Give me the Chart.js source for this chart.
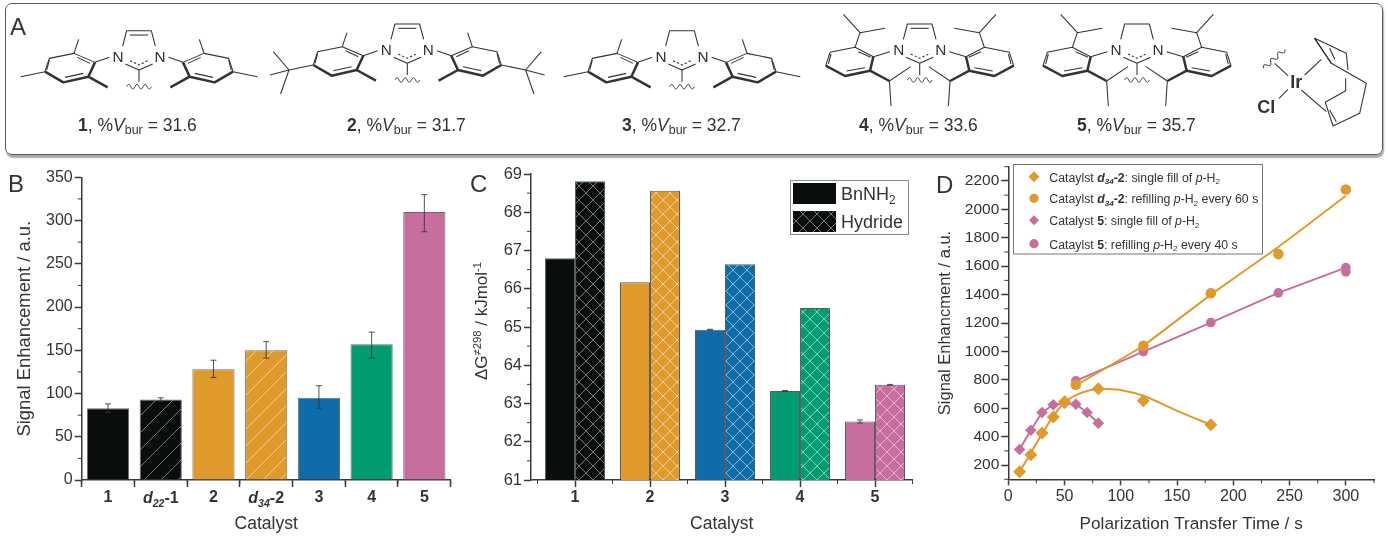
<!DOCTYPE html>
<html><head><meta charset="utf-8">
<script src="https://cdn.jsdelivr.net/npm/chart.js@4"></script>
<style>
html,body{margin:0;padding:0;background:#fff;width:1388px;height:544px;overflow:hidden}
#wrap{position:relative;width:1388px;height:544px;font-family:"Liberation Sans",Arial,sans-serif;color:#333;filter:blur(.3px)}
canvas{position:absolute}
.box{position:absolute;left:5px;top:3px;width:1376px;height:150px;border:1.6px solid #5a5a5a;border-radius:7px;box-shadow:1px 2.5px 1.5px #aaa;box-sizing:content-box}
.lab{position:absolute;top:115px;font-size:17.5px;line-height:20px;white-space:nowrap}
.lab sub{font-size:12.5px;line-height:0;vertical-align:-3px}
.let{position:absolute;font-size:24px;line-height:24px}
svg{position:absolute;left:0;top:0}
</style></head><body>
<div id="wrap">
<div class="box"></div>
<svg id="mol" width="1388" height="160" xmlns="http://www.w3.org/2000/svg"></svg>
<div class="let" style="left:10px;top:15px">A</div>
<div class="let" style="left:8px;top:172px">B</div>
<div class="let" style="left:470px;top:172px">C</div>
<div class="let" style="left:936px;top:173px">D</div>
<div class="lab" style="left:78px"><b>1</b>, %<i>V</i><sub>bur</sub> = 31.6</div>
<div class="lab" style="left:347px"><b>2</b>, %<i>V</i><sub>bur</sub> = 31.7</div>
<div class="lab" style="left:622px"><b>3</b>, %<i>V</i><sub>bur</sub> = 32.7</div>
<div class="lab" style="left:859px"><b>4</b>, %<i>V</i><sub>bur</sub> = 33.6</div>
<div class="lab" style="left:1077px"><b>5</b>, %<i>V</i><sub>bur</sub> = 35.7</div>
<canvas id="b" width="460" height="379" style="left:0;top:165px"></canvas>
<canvas id="c" width="460" height="379" style="left:460px;top:165px"></canvas>
<canvas id="d" width="458" height="389" style="left:930px;top:155px"></canvas>
</div>
<script>
// ---------- Data ----------
const BLACK='#0a0d0e',AMBER='#e09a2b',BLUE='#0e6ca8',GREEN='#029c72',PINK='#c76e9e';
// Panel B
const catB=['1','d22-1','2','d34-2','3','4','5'];
const valB=[83,93,128,150,95,157,310];
const errHiB=[88,95,138.5,160,109,171,330];
const errLoB=[78,91,118.5,141,83,141,287];
const colB=[BLACK,BLACK,AMBER,AMBER,BLUE,GREEN,PINK];
const hatchB=[false,true,false,true,false,false,false];
const ticksYB=[0,50,100,150,200,250,300,350];
const minorYB=[25,75,125,175,225,275,325];
// Panel C
const catC=[1,2,3,4,5];
const bnnh2=[66.8,66.17,64.93,63.33,62.53];
const hydride=[68.81,68.56,66.64,65.5,63.49];
const errBn=[0,0,0.01,0.01,0.04];
const errHy=[0,0,0,0,0.01];
const colC=[BLACK,AMBER,BLUE,GREEN,PINK];
const ticksYC=[61,62,63,64,65,66,67,68,69];
const minorYC=[61.5,62.5,63.5,64.5,65.5,66.5,67.5,68.5];
const minorXC=[0.5,1.5,2.5,3.5,4.5,5.5];
// Panel D
const timeSingleA=[10,20,30,40,50,80,120,180];
const singleA=[153,273,425,538,646,737,653,484];
const curveTimeA=[10,20,30,40,50,60,70,80,90,100,120,150,180];
const curveA=[153,285,420,545,640,692,722,735,735,728,688,582,484];
const timeRefillA=[60,120,180,240,300];
const refillA=[765,1040,1410,1685,2140];
const lineRefillA=[760,1040,1400,1735,2095];
const timeSingleP=[10,20,30,40,50,60,70,80];
const singleP=[310,445,570,625,635,628,570,495];
const timeRefillP=[60,120,180,240,300,300];
const refillP=[793,998,1203,1412,1590,1560];
const lineTimeP=[60,120,180,240,300];
const lineRefillP=[793,998,1203,1412,1590];
const ticksYD=[200,400,600,800,1000,1200,1400,1600,1800,2000,2200];
const minorYD=[100,300,500,700,900,1100,1300,1500,1700,1900,2100,2300];
const ticksXD=[0,50,100,150,200,250,300];
const minorXD=[25,75,125,175,225,275,325];

// ---------- Helpers ----------
const FONT='"Liberation Sans",Arial,sans-serif', TXT='#333';
Chart.defaults.font.family=FONT; Chart.defaults.color=TXT; Chart.defaults.animation=false;
function hatch(color,cross,size,line){
  const c=document.createElement('canvas');c.width=c.height=size;const x=c.getContext('2d');
  x.fillStyle=color;x.fillRect(0,0,size,size);x.strokeStyle=line;x.lineWidth=1;
  const d=(a,b,e,f)=>{x.beginPath();x.moveTo(a,b);x.lineTo(e,f);x.stroke()};
  d(-1,size+1,size+1,-1);
  if(cross){d(-1,-1,size+1,size+1);}
  return x.createPattern(c,'repeat');
}
const lineCol=c=>c===BLACK?'rgba(190,190,190,.6)':'rgba(255,255,255,.5)';
function rich(ctx,segs,x,y,size,align){
  const f=s=>(s.i?'italic ':'')+(s.b?'bold ':'')+(s.sub||s.sup?size*.66:size)+'px '+FONT;
  let w=0;segs.forEach(s=>{ctx.font=f(s);w+=ctx.measureText(s.t).width});
  let px=align==='center'?x-w/2:x;
  ctx.textAlign='left';ctx.textBaseline='alphabetic';
  segs.forEach(s=>{ctx.font=f(s);ctx.fillText(s.t,px,y+(s.sub?size*.22:s.sup?-size*.36:0));px+=ctx.measureText(s.t).width});
}
const fixY=(w,t)=>s=>{s.width=w;s.paddingTop=s.paddingBottom=0};
const fixX=h=>s=>{s.height=h;s.paddingLeft=s.paddingRight=0};
const setTicks=a=>s=>{s.ticks=a.map(v=>({value:v}))};
const AX='#3a3a3a';
const yScale=(w,min,max,ticks,title,tp,size,tsize)=>({type:'linear',min,max,afterFit:fixY(w),afterBuildTicks:setTicks(ticks),
  border:{color:AX,width:1.5},grid:{drawOnChartArea:false,tickLength:7,tickColor:AX,tickWidth:1.5},
  ticks:{autoSkip:false,padding:2,color:TXT,font:{size},callback:v=>String(v)},
  title:title?{display:true,text:title,color:TXT,font:{size:tsize},padding:{top:tp}}:{display:false}});
function minorPlugin(xs,ys,xIdx){return {id:'minor',afterDraw(ch){
  const c=ch.ctx,xa=ch.scales.x,ya=ch.scales.y;c.save();c.strokeStyle=AX;c.lineWidth=1;
  (xs||[]).forEach(v=>{const p=xa.getPixelForValue(v);c.beginPath();c.moveTo(p,xa.top);c.lineTo(p,xa.top+4);c.stroke()});
  (ys||[]).forEach(v=>{const p=ya.getPixelForValue(v);c.beginPath();c.moveTo(ya.right,p);c.lineTo(ya.right-4,p);c.stroke()});
  c.restore();}}}

// ---------- Panel B ----------
const richB={'d22-1':[{t:'d',b:1,i:1},{t:'22',b:1,i:1,sub:1},{t:'-1',b:1}],'d34-2':[{t:'d',b:1,i:1},{t:'34',b:1,i:1,sub:1},{t:'-2',b:1}]};
new Chart(document.getElementById('b'),{type:'bar',
 data:{labels:catB,datasets:[{data:valB,
   backgroundColor:colB.map((c,i)=>hatchB[i]?hatch(c,false,17,lineCol(c)):c),
   borderColor:'rgba(60,60,60,.75)',borderWidth:1,barPercentage:.8,categoryPercentage:1}]},
 options:{responsive:false,layout:{padding:{top:12.3,right:9.3}},plugins:{legend:{display:false},tooltip:{enabled:false}},
  scales:{y:yScale(81.7,0,350,ticksYB,'Signal Enhancement / a.u.',14,16,18.4),
   x:{afterFit:fixX(64),border:{color:AX,width:1.5},grid:{drawOnChartArea:false,tickLength:7,tickColor:AX,tickWidth:1.5},
     ticks:{autoSkip:false,maxRotation:0,padding:1,color:TXT,font:{size:16,weight:'bold'},callback(v){const l=this.getLabelForValue(v);return richB[l]?'':l}},
     title:{display:true,text:'Catalyst',color:TXT,font:{size:17.5},padding:{bottom:9}}}}},
 plugins:[minorPlugin([-.5,.5,1.5,2.5,3.5,4.5,5.5,6.5],minorYB),{id:'errB',afterDatasetsDraw(ch){
   const c=ch.ctx,y=ch.scales.y,m=ch.getDatasetMeta(0);c.save();c.strokeStyle='rgba(50,50,50,.85)';c.lineWidth=1;
   m.data.forEach((b,i)=>{const hi=y.getPixelForValue(errHiB[i]),lo=y.getPixelForValue(errLoB[i]);c.beginPath();
     c.moveTo(b.x,hi);c.lineTo(b.x,lo);c.moveTo(b.x-3,hi);c.lineTo(b.x+3,hi);c.moveTo(b.x-3,lo);c.lineTo(b.x+3,lo);c.stroke()});
   c.restore();
 },afterDraw(ch){const c=ch.ctx,x=ch.scales.x;c.save();c.fillStyle=TXT;
   catB.forEach((l,i)=>{if(richB[l])rich(c,richB[l],x.getPixelForValue(i),338,16,'center')});c.restore();}}]});

// ---------- Panel C ----------
new Chart(document.getElementById('c'),{type:'bar',
 data:{datasets:[
  {label:'BnNH2',data:catC.map((x,i)=>({x,y:bnnh2[i]})),backgroundColor:colC,borderColor:'rgba(50,50,50,.8)',borderWidth:1,categoryPercentage:.8,barPercentage:1},
  {label:'Hydride',data:catC.map((x,i)=>({x,y:hydride[i]})),backgroundColor:colC.map(c=>hatch(c,true,14,lineCol(c))),borderColor:'rgba(50,50,50,.8)',borderWidth:1,categoryPercentage:.8,barPercentage:1}]},
 options:{responsive:false,layout:{padding:{top:9,right:7.7}},plugins:{legend:{display:false},tooltip:{enabled:false}},
  scales:{y:yScale(71,61,69,ticksYC,null,0,16.5,17),
   x:{type:'linear',offset:false,min:0.413,max:5.497,afterFit:fixX(64),afterBuildTicks:setTicks(catC),border:{color:AX,width:1.5},
     grid:{drawOnChartArea:false,offset:false,tickLength:7,tickColor:AX,tickWidth:1.5},
     ticks:{autoSkip:false,padding:1,color:TXT,font:{size:16,weight:'bold'}},
     title:{display:true,text:'Catalyst',color:TXT,font:{size:17.5},padding:{bottom:9}}}}},
 plugins:[minorPlugin(minorXC,minorYC),{id:'errC',afterDatasetsDraw(ch){
   const c=ch.ctx,y=ch.scales.y;c.save();c.strokeStyle='rgba(50,50,50,.8)';c.lineWidth=1;
   [errBn,errHy].forEach((e,k)=>{const m=ch.getDatasetMeta(k),v=k?hydride:bnnh2;m.data.forEach((b,i)=>{if(!e[i])return;
     const hi=y.getPixelForValue(v[i]+e[i]),lo=y.getPixelForValue(v[i]-e[i]);c.beginPath();
     c.moveTo(b.x,hi);c.lineTo(b.x,lo);c.moveTo(b.x-3,hi);c.lineTo(b.x+3,hi);c.moveTo(b.x-3,lo);c.lineTo(b.x+3,lo);c.stroke()})});
   c.restore();
 },afterDraw(ch){const c=ch.ctx;c.save();
   // y axis title
   c.translate(27,156);c.rotate(-Math.PI/2);c.fillStyle=TXT;
   rich(c,[{t:'ΔG'},{t:'≠298',sup:1},{t:' / kJmol'},{t:'-1',sup:1}],0,0,17,'center');
   c.restore();c.save();
   // legend
   c.fillStyle='#fff';c.strokeStyle='#8a8a8a';c.lineWidth=1;c.fillRect(330.5,15.5,118,54);c.strokeRect(330.5,15.5,118,54);
   c.fillStyle=BLACK;c.fillRect(333,18,43,21);
   c.fillStyle=hatch(BLACK,true,14,lineCol(BLACK));c.fillRect(333,46,43,21);
   c.fillStyle=TXT;
   rich(c,[{t:'BnNH'},{t:'2',sub:1}],381,35,18,'left');
   rich(c,[{t:'Hydride'}],381,63,18,'left');
   c.restore();}}]});

// ---------- Panel D ----------
const sc=(xs,ys)=>xs.map((x,i)=>({x,y:ys[i]}));
const mk=(data,color,style,r)=>({data,showLine:false,pointStyle:style,pointRadius:r,pointBackgroundColor:color,pointBorderColor:color,pointBorderWidth:0});
const ln=(data,color,tension,w)=>({data,showLine:true,pointRadius:0,borderColor:color,borderWidth:w||2,tension,fill:false});
new Chart(document.getElementById('d'),{type:'scatter',
 data:{datasets:[
  mk(sc(timeSingleA,singleA),AMBER,'rectRot',6.5),
  mk(sc(timeRefillA,refillA),AMBER,'circle',5.3),
  ln(sc(curveTimeA,curveA),AMBER,.35,2),
  ln(sc(timeRefillA,lineRefillA),AMBER,.1,2),
  mk(sc(timeRefillP,refillP),PINK,'circle',4.8),
  ln(sc(lineTimeP,lineRefillP),PINK,0,2),
  mk(sc(timeSingleP,singleP),PINK,'rectRot',5.8),
  ln(sc(timeSingleP,singleP),PINK,0,2)]},
 options:{responsive:false,layout:{padding:{top:11.7,right:14}},plugins:{legend:{display:false},tooltip:{enabled:false}},
  scales:{y:yScale(78.3,100,2300,ticksYD,'Signal Enhancment / a.u.',6,15.5,16.5),
   x:{type:'linear',min:0,max:325,afterFit:fixX(64.7),afterBuildTicks:setTicks(ticksXD),border:{color:AX,width:1.5},
     grid:{drawOnChartArea:false,tickLength:6,tickColor:AX,tickWidth:1.5},
     ticks:{autoSkip:false,padding:2,color:TXT,font:{size:16},callback:v=>String(v)},
     title:{display:true,text:'Polarization Transfer Time / s',color:TXT,font:{size:17.2},padding:{bottom:9}}}}},
 plugins:[minorPlugin(minorXD,minorYD),{id:'legD',afterDraw(ch){
   const c=ch.ctx;c.save();c.strokeStyle='#777';c.lineWidth=1;c.strokeRect(83.5,9.5,249,89.5);
   const dia=(x,y,r,col)=>{c.fillStyle=col;c.beginPath();c.moveTo(x-r,y);c.lineTo(x,y-r);c.lineTo(x+r,y);c.lineTo(x,y+r);c.closePath();c.fill()};
   const cir=(x,y,r,col)=>{c.fillStyle=col;c.beginPath();c.arc(x,y,r,0,7);c.fill()};
   dia(104,21.7,5.5,AMBER);cir(104,43.3,4.6,AMBER);dia(104,65.3,5,PINK);cir(104,88.7,4.6,PINK);
   c.fillStyle=TXT;
   const d34=[{t:'d',b:1,i:1},{t:'34',b:1,i:1,sub:1},{t:'-2',b:1}],pH=[{t:'p',i:1},{t:'-H'},{t:'2',sub:1}];
   const F=12.3,X=119.3;
   rich(c,[{t:'Cataylst '},...d34,{t:': single fill of '},...pH],X,26.5,F,'left');
   rich(c,[{t:'Cataylst '},...d34,{t:': refilling '},...pH,{t:' every 60 s'}],X,48,F,'left');
   rich(c,[{t:'Catalyst '},{t:'5',b:1},{t:': single fill of '},...pH],X,70,F,'left');
   rich(c,[{t:'Cataylst '},{t:'5',b:1},{t:': refilling '},...pH,{t:' every 40 s'}],X,93.5,F,'left');
   c.restore();}}]});

// ---------- Panel A: structures (drawing only) ----------
const NS='http://www.w3.org/2000/svg',svg=document.getElementById('mol');
const THIN=3.2,THICK=7.5,INK='#333';
function group(tx,ty,sx){const g=document.createElementNS(NS,'g');g.setAttribute('transform',`translate(${tx} ${ty}) scale(${sx/3} ${1/3})`);svg.appendChild(g);return g}
function pl(g,pts,w,dash){const p=document.createElementNS(NS,'polyline');p.setAttribute('points',pts.join(' '));p.setAttribute('fill','none');p.setAttribute('stroke',INK);p.setAttribute('stroke-width',w||THIN);p.setAttribute('stroke-linejoin','round');if(dash)p.setAttribute('stroke-dasharray',dash);g.appendChild(p)}
function txt(g,x,y,s,size,bold,flip){const t=document.createElementNS(NS,'text');t.setAttribute('x',x);t.setAttribute('y',y);t.setAttribute('font-size',size);t.setAttribute('font-family',FONT);t.setAttribute('fill',INK);t.setAttribute('text-anchor','middle');if(bold)t.setAttribute('font-weight','bold');t.textContent=s;g.appendChild(t)}
function wave(g,x0,x1,y){let d=`M${x0} ${y}`;const n=6,st=(x1-x0)/n;for(let i=0;i<n;i++)d+=` q${st/2} ${i%2?14:-14} ${st} 0`;const p=document.createElementNS(NS,'path');p.setAttribute('d',d);p.setAttribute('fill','none');p.setAttribute('stroke',INK);p.setAttribute('stroke-width',2.6);g.appendChild(p)}
function core(g,unsat){
  pl(g,[-49,118,-37,72,37,72,49,118]);
  if(unsat)pl(g,[-27,85,27,85]);
  pl(g,[-41,172,0,190,41,172]);pl(g,[-27,162,0,175,27,162],THIN,'7 6');pl(g,[0,190,0,225]);wave(g,-37,37,240);
  txt(g,-63,165,'N',46);txt(g,63,165,'N',46);
}
function mesHalf(g,tbu){
  pl(g,[-89,152,-132,167,-195,140,-269,155,-282,195]);
  pl(g,[-282,195,-227,227,-152,210,-132,167],THICK);pl(g,[-152,210,-94,242],THICK);
  pl(g,[-195,140,-181,98]);pl(g,[-282,195,-355,210]);
  pl(g,[-185,152,-147,170]);pl(g,[-269,160,-277,190]);pl(g,[-222,212,-167,200]);
  if(tbu){pl(g,[-355,210,-402,155]);pl(g,[-355,210,-380,282]);pl(g,[-355,210,-412,225]);}
}
function dippHalf(g){
  pl(g,[-89,155,-139,170,-194,142,-269,157,-282,197]);
  pl(g,[-282,197,-224,228,-149,212,-139,170],THICK);pl(g,[-149,212,-91,243],THICK);
  pl(g,[-194,142,-179,98]);pl(g,[-229,43,-179,98,-104,85]);
  pl(g,[-27,200,-91,243,-86,318]);
  pl(g,[-184,155,-147,172]);pl(g,[-266,162,-274,192]);pl(g,[-219,213,-164,203]);
}
function mol(cx,cy,unsat,half){core(group(cx,cy,1),unsat);half(group(cx,cy,1));half(group(cx,cy,-1))}
mol(139,6.7,true,g=>mesHalf(g,false));
mol(407.3,0,true,g=>mesHalf(g,true));
mol(682,6.7,false,g=>mesHalf(g,false));
mol(919.7,0,true,dippHalf);
mol(1137,0,false,dippHalf);
const ir=group(1118,0,1);
wave(ir,437,522,0);ir.lastChild.setAttribute('transform','translate(0 205) rotate(-42 437 0)');
pl(ir,[470,190,510,227]);pl(ir,[560,225,610,178]);pl(ir,[550,270,625,335]);pl(ir,[483,295,510,268]);
pl(ir,[640,190,590,115,685,160,690,210]);pl(ir,[590,115,640,190,745,250,725,340,645,378,622,307,683,272,683,235]);
pl(ir,[635,145,650,178]);pl(ir,[635,330,655,365]);
txt(ir,535,263,'Ir',54,true);txt(ir,445,338,'Cl',54,true);
</script>
</body></html>
